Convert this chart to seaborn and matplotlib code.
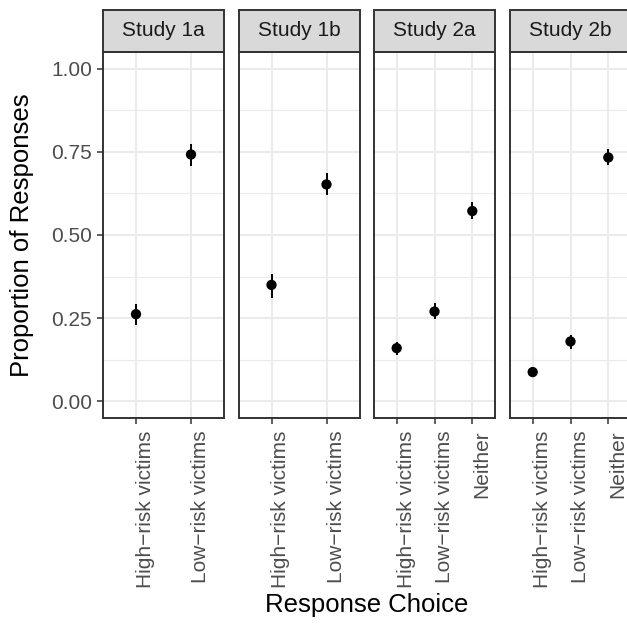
import matplotlib
matplotlib.use("Agg")
import matplotlib.pyplot as plt
from matplotlib.patches import Rectangle
import seaborn as sns
import pandas as pd

# data
studies = ["Study 1a", "Study 1b", "Study 2a", "Study 2b"]
study = ["Study 1a", "Study 1a", "Study 1b", "Study 1b",
         "Study 2a", "Study 2a", "Study 2a",
         "Study 2b", "Study 2b", "Study 2b"]
choice = ["High\u2212risk victims", "Low\u2212risk victims",
          "High\u2212risk victims", "Low\u2212risk victims",
          "High\u2212risk victims", "Low\u2212risk victims", "Neither",
          "High\u2212risk victims", "Low\u2212risk victims", "Neither"]
prop = [0.262, 0.742, 0.350, 0.652, 0.160, 0.270, 0.572, 0.088, 0.180, 0.733]
lower = [0.230, 0.708, 0.310, 0.619, 0.140, 0.248, 0.547, 0.080, 0.158, 0.709]
upper = [0.293, 0.775, 0.383, 0.685, 0.178, 0.295, 0.600, 0.096, 0.200, 0.757]
yticks = [0.0, 0.25, 0.5, 0.75, 1.0]
ytick_labels = ["0.00", "0.25", "0.50", "0.75", "1.00"]

df = pd.DataFrame({"study": study, "choice": choice, "prop": prop,
                   "lower": lower, "upper": upper})

sns.set_theme(style="white")
plt.rcParams["font.family"] = ["Liberation Sans", "DejaVu Sans"]

W, H = 627, 628
fig = plt.figure(figsize=(W / 100, H / 100), dpi=100)

grid_col = "#EBEBEB"
border_col = "#333333"
panel_w, panel_h = 121, 366
lefts = [103, 238.5, 374, 510]
bottom = 418
strip_h = 42

for i, s in enumerate(studies):
    ax = fig.add_axes([lefts[i] / W, (H - bottom) / H, panel_w / W, panel_h / H])
    sub = df[df["study"] == s]
    n = len(sub)
    ax.set_axisbelow(True)
    # grid
    for y in [0.125, 0.375, 0.625, 0.875]:
        ax.axhline(y, color=grid_col, lw=0.8, zorder=0)
    for y in yticks:
        ax.axhline(y, color=grid_col, lw=1.5, zorder=0)
    for k in range(n):
        ax.axvline(k, color=grid_col, lw=1.5, zorder=0)
    ax.vlines(sub["choice"], sub["lower"], sub["upper"], color="black", lw=1.4, zorder=2)
    sns.scatterplot(data=sub, x="choice", y="prop", ax=ax, color="black",
                    s=55, edgecolor="none", zorder=3, legend=False)
    ax.set_xlim(-0.6, n - 0.4)
    ax.set_ylim(-0.05, 1.05)
    ax.set_yticks(yticks)
    ax.set_xlabel("")
    ax.set_ylabel("")
    for sp in ax.spines.values():
        sp.set_color(border_col)
        sp.set_linewidth(1.4)
    ax.tick_params(axis="both", which="both", length=4, width=1.1, color=border_col,
                   labelcolor="#4D4D4D", labelsize=15)
    ax.tick_params(axis="x", pad=5, bottom=True)
    ax.tick_params(axis="y", pad=4, left=True)
    for lab in ax.get_xticklabels():
        lab.set_rotation(90)
        lab.set_ha("left")
        lab.set_va("top")
    if i == 0:
        ax.set_yticklabels(ytick_labels)
    else:
        ax.set_yticklabels([])
        ax.tick_params(axis="y", left=False)
    # facet strip
    ax.add_patch(Rectangle((0, 1), 1, strip_h / panel_h, transform=ax.transAxes,
                           clip_on=False, facecolor="#D9D9D9", edgecolor=border_col,
                           lw=1.4))
    ax.text(0.5, 1 + strip_h / panel_h / 2, s, transform=ax.transAxes,
            ha="center", va="center", fontsize=15, color="#1A1A1A")

fig.text(22 / W, 1 - 235 / H, "Proportion of Responses", rotation=90,
         ha="center", va="center", fontsize=18.5, color="black")
fig.text(367 / W, 1 - 605 / H, "Response Choice", ha="center", va="center",
         fontsize=18.5, color="black")

fig.savefig("out.png", dpi=100)
